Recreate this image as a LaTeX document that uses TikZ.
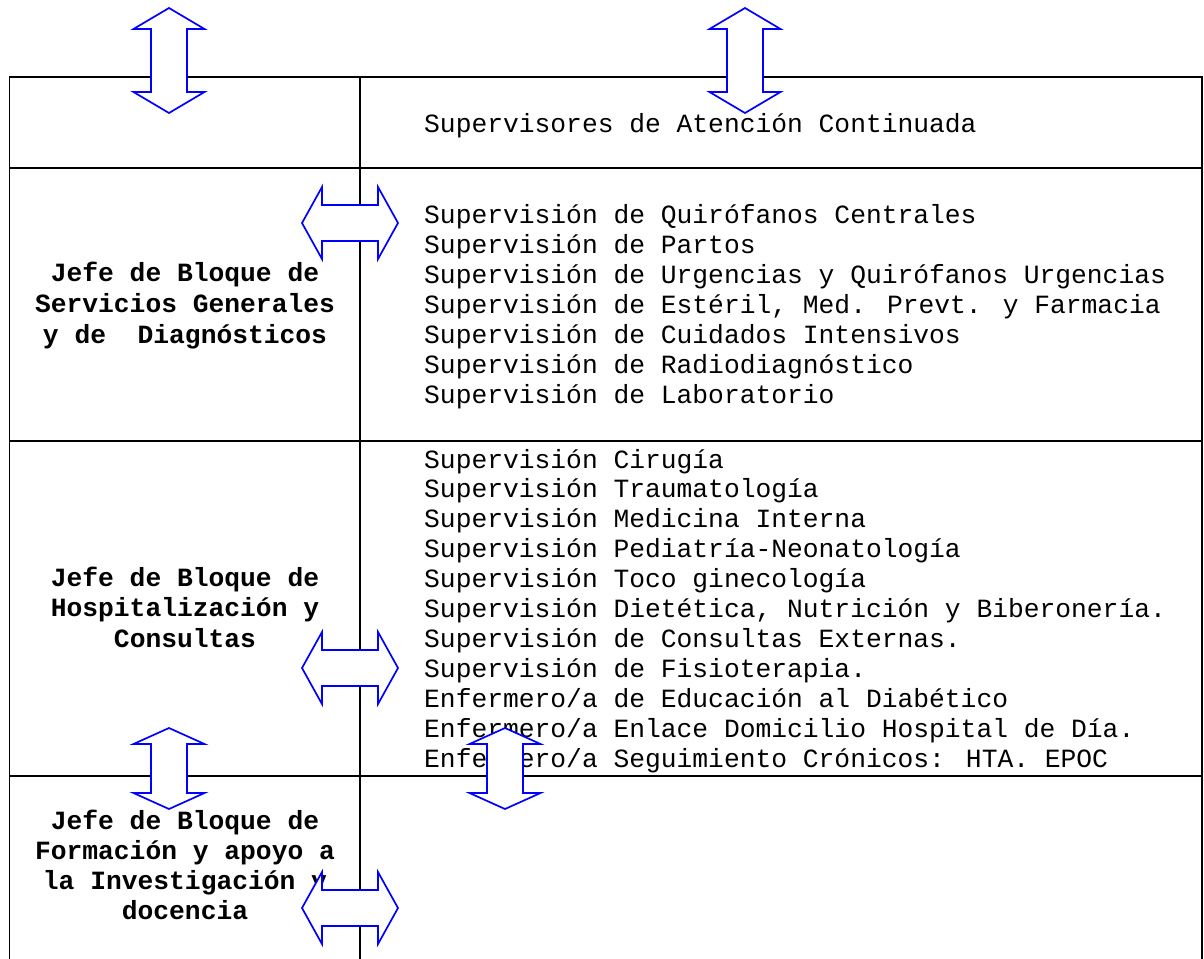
\documentclass[tikz,border=0pt]{standalone}
\usepackage{fontspec}
\setmainfont{Liberation Mono}
\newcommand{\vdarrow}[4]{% cx, top, bottom, head length
  \draw[dbl] (#1,#2) -- (#1+35.5,#2+#4) -- (#1+18,#2+#4) -- (#1+18,#3-#4) -- (#1+35.5,#3-#4) -- (#1,#3) -- (#1-35.5,#3-#4) -- (#1-18,#3-#4) -- (#1-18,#2+#4) -- (#1-35.5,#2+#4) -- cycle;}
\newcommand{\hdarrow}[4]{% cy, left, right, head length
  \draw[dbl] (#2,#1) -- (#2+#4,#1-36) -- (#2+#4,#1-18) -- (#3-#4,#1-18) -- (#3-#4,#1-36) -- (#3,#1) -- (#3-#4,#1+36) -- (#3-#4,#1+18) -- (#2+#4,#1+18) -- (#2+#4,#1+36) -- cycle;}
\begin{document}
\begin{tikzpicture}[x=1pt,y=-1pt,
  tbl/.style={line width=1.5pt},
  dbl/.style={draw=blue,fill=white,line width=1.7pt},
  rtxt/.style={anchor=base west,inner sep=0pt,font=\fontsize{26.3}{30}\selectfont},
  ltxt/.style={anchor=base,inner sep=0pt,font=\fontsize{26.3}{30}\selectfont\bfseries}]
\useasboundingbox (0,0) rectangle (1204,958);
\fill[white] (0,0) rectangle (1204,958);
% table
\draw[tbl] (9.5,970) -- (9.5,77) -- (1202,77) -- (1202,970);
\draw[tbl] (9.5,168) -- (1202,168);
\draw[tbl] (9.5,441) -- (1202,441);
\draw[tbl] (9.5,776) -- (1202,776);
\draw[tbl] (360,77) -- (360,970);
% right column texts
\node[rtxt] (r1) at (424,132) {Supervisores de Atención Continuada};
\foreach \t [count=\i from 0] in {
  {Supervisión de Quirófanos Centrales},
  {Supervisión de Partos},
  {Supervisión de Urgencias y Quirófanos Urgencias},
  {Supervisión de Estéril, Med. Prevt. y Farmacia},
  {Supervisión de Cuidados Intensivos},
  {Supervisión de Radiodiagnóstico},
  {Supervisión de Laboratorio}}
  \node[rtxt] (ra\i) at (424,223+30*\i) {\t};
\foreach \t [count=\i from 0] in {
  {Supervisión Cirugía},
  {Supervisión Traumatología},
  {Supervisión Medicina Interna},
  {Supervisión Pediatría-Neonatología},
  {Supervisión Toco ginecología},
  {Supervisión Dietética, Nutrición y Biberonería.},
  {Supervisión de Consultas Externas.},
  {Supervisión de Fisioterapia.},
  {Enfermero/a de Educación al Diabético},
  {Enfermero/a Enlace Domicilio Hospital de Día.},
  {Enfermero/a Seguimiento Crónicos: HTA. EPOC}}
  \node[rtxt] (rb\i) at (424,468+29.9*\i) {\t};
% left column texts
\foreach \t [count=\i from 0] in {
  {Jefe de Bloque de},
  {Servicios Generales},
  {y de\ \ Diagnósticos}}
  \node[ltxt] (la\i) at (185,281+31*\i) {\t};
\foreach \t [count=\i from 0] in {
  {Jefe de Bloque de},
  {Hospitalización y},
  {Consultas}}
  \node[ltxt] (lb\i) at (185,586+30.5*\i) {\t};
\foreach \t [count=\i from 0] in {
  {Jefe de Bloque de},
  {Formación y apoyo a},
  {la Investigación y},
  {docencia}}
  \node[ltxt] (lc\i) at (185,829+30*\i) {\t};
% double arrows
\vdarrow{169}{8}{113}{21}
\vdarrow{745}{8}{113}{21}
\vdarrow{169}{728}{809}{16}
\vdarrow{505}{728}{809}{16}
\hdarrow{223}{302}{398}{20}
\hdarrow{668}{302}{398}{20}
\hdarrow{908}{302}{398}{20}
\end{tikzpicture}
\end{document}
